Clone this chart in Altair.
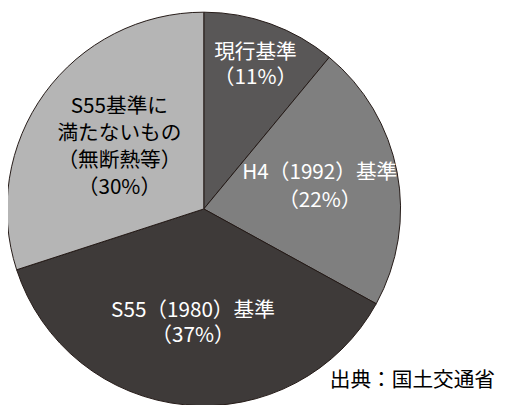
import altair as alt
import pandas as pd

categories = ["現行基準", "H4 (1992) 基準", "S55 (1980) 基準", "S55基準に満たないもの"]
labels = ["現行基準\n（11%）", "H4（1992）基準\n（22%）", "S55（1980）基準\n（37%）", "S55基準に\n満たないもの\n（無断熱等）\n（30%）"]
values = [11, 22, 37, 30]
colors = ["#595757", "#7f7f7f", "#3e3a39", "#b5b5b5"]
label_colors = ["white", "white", "white", "black"]

rows = []
for i, (c, lab, v) in enumerate(zip(categories, labels, values)):
    for j, line in enumerate(lab.split("\n")):
        rows.append({"cat": c, "value": v, "idx": i, "line": line, "j": j})
lines_df = pd.DataFrame(rows)

df = pd.DataFrame({
    "cat": categories,
    "value": values,
    "idx": list(range(len(categories))),
})

CX, CY, R = 199, 201, 200
FONT = "Noto Sans CJK JP"
label_radius = [155, 120, 117, 106]
line_heights = [25, 28, 25, 27.5]

arc = alt.Chart(df).mark_arc(outerRadius=R, stroke="#231815", strokeWidth=1).encode(
    theta=alt.Theta("value:Q", stack=True),
    order=alt.Order("idx:Q"),
    color=alt.Color("cat:N", scale=alt.Scale(domain=categories, range=colors), legend=None),
    x=alt.value(CX),
    y=alt.value(CY),
)

# cumulative mid angle per category (computed on the category table, then joined by lookup)
mid_src = alt.Chart(df).transform_window(
    cum="sum(value)", sort=[alt.SortField("idx")], frame=[None, 0]
)

layers = [arc]
for i, cat in enumerate(categories):
    parts = labels[i].split("\n")
    n = len(parts)
    lh = line_heights[i]
    for j in range(n):
        t = alt.Chart(df).mark_text(
            font=FONT, fontSize=21, align="center", baseline="middle",
            color=label_colors[i], dy=(j - (n - 1) / 2) * lh,
        ).encode(
            theta=alt.Theta("mid:Q", scale=alt.Scale(domain=[0, sum(values)], range=[0, 6.283185307179586])),
            radius=alt.value(label_radius[i]),
            text="line:N",
            x=alt.value(CX),
            y=alt.value(CY),
        ).transform_window(
            cum="sum(value)", sort=[alt.SortField("idx")], frame=[None, 0]
        ).transform_calculate(
            mid="datum.cum - datum.value / 2"
        ).transform_lookup(
            lookup="cat",
            from_=alt.LookupData(lines_df[lines_df["j"] == j], "cat", ["line"]),
        ).transform_filter(alt.datum.cat == cat)
        layers.append(t)

src = alt.Chart(pd.DataFrame({"t": ["出典：国土交通省"]})).mark_text(
    font=FONT, fontSize=21, align="right", baseline="middle", color="black"
).encode(text="t:N", x=alt.value(495), y=alt.value(376))
layers.append(src)

chart = alt.layer(*layers).properties(
    width=497, height=397, autosize=alt.AutoSizeParams(type="none"), padding=0,
    background="white",
).configure_view(stroke=None).resolve_scale(theta="independent")

chart.save("out.html", embed_options={"renderer": "svg", "actions": False})
